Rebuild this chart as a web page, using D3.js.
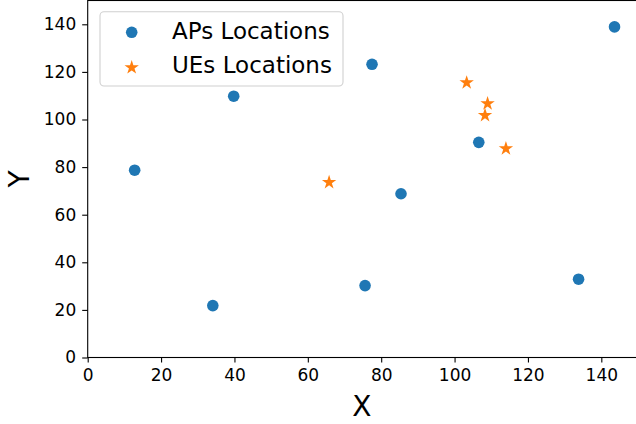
<!DOCTYPE html>
<html>
<head>
<meta charset="utf-8">
<script src="https://cdn.jsdelivr.net/npm/d3@7"></script>
<style>
  body { margin: 0; background: #fff; }
  text { font-family: "DejaVu Sans", sans-serif; fill: #000; }
</style>
</head>
<body>
<div id="chart"></div>
<script>
// AP and UE positions
var apX = [12.8, 39.8, 77.5, 34.1, 75.6, 85.4, 106.6, 143.6, 133.8];
var apY = [78.7, 109.8, 123.2, 21.8, 30.2, 68.8, 90.4, 138.9, 32.9];
var ueX = [65.8, 103.3, 109.0, 108.3, 114.0];
var ueY = [73.9, 115.8, 107.0, 102.1, 88.1];
var ticks = [0, 20, 40, 60, 80, 100, 120, 140];
var legendLabels = ["APs Locations", "UEs Locations"];

var W = 636, H = 424;
var margin = {top: 0.5, right: -2, bottom: 66.5, left: 87.7},
    width = W - margin.left - margin.right,
    height = H - margin.top - margin.bottom;

var x = d3.scaleLinear().domain([0, 150]).range([0, width]);
var y = d3.scaleLinear().domain([0, 150]).range([height, 0]);

var svg = d3.select("#chart").append("svg")
    .attr("width", W)
    .attr("height", H);

var g = svg.append("g")
    .attr("transform", "translate(" + margin.left + "," + margin.top + ")");

// frame
g.append("rect")
    .attr("width", width)
    .attr("height", height)
    .attr("fill", "none")
    .attr("stroke", "#000")
    .attr("stroke-width", 1.1);

// axes
var xAxis = g.append("g")
    .attr("transform", "translate(0," + height + ")")
    .call(d3.axisBottom(x).tickValues(ticks).tickSize(5).tickPadding(6));
var yAxis = g.append("g")
    .call(d3.axisLeft(y).tickValues(ticks).tickSize(5.5).tickPadding(6));

[xAxis, yAxis].forEach(function(a) {
  a.select(".domain").remove();
  a.selectAll("line").attr("stroke", "#000").attr("stroke-width", 1.1);
  a.selectAll("text")
      .style("font-family", "DejaVu Sans, sans-serif")
      .style("font-size", "17px")
      .attr("fill", "#000");
});

// axis labels
g.append("text")
    .attr("x", x(75) - 1)
    .attr("y", 415)
    .attr("text-anchor", "middle")
    .style("font-size", "28px")
    .text("X");

g.append("text")
    .attr("transform", "translate(" + (29 - margin.left) + "," + (height / 2) + ") rotate(-90)")
    .attr("text-anchor", "middle")
    .style("font-size", "28px")
    .text("Y");

// points
var plot = g.append("g");

plot.selectAll(".ap")
    .data(apX)
    .enter()
    .append("circle")
    .attr("class", "ap")
    .attr("cx", function(d) { return x(d); })
    .attr("cy", function(d, i) { return y(apY[i]); })
    .attr("r", 5.8)
    .attr("fill", "#1f77b4");

var star = d3.symbol().type(d3.symbolStar).size(64);

plot.selectAll(".ue")
    .data(ueX)
    .enter()
    .append("path")
    .attr("class", "ue")
    .attr("d", star)
    .attr("transform", function(d, i) {
      return "translate(" + x(d) + "," + (y(ueY[i]) + 0.8) + ")";
    })
    .attr("fill", "#ff7f0e");

// legend
var legend = svg.append("g");

legend.append("rect")
    .attr("x", 100)
    .attr("y", 11.7)
    .attr("width", 243)
    .attr("height", 74.3)
    .attr("rx", 4)
    .attr("fill", "#fff")
    .attr("fill-opacity", 0.8)
    .attr("stroke", "#d0d0d0")
    .attr("stroke-width", 1.1);

var rows = legend.selectAll(".row")
    .data(legendLabels)
    .enter()
    .append("g")
    .attr("transform", function(d, i) { return "translate(0," + (32.3 + i * 34.4) + ")"; });

rows.each(function(d, i) {
  var r = d3.select(this);
  if (i === 0) {
    r.append("circle").attr("cx", 131.7).attr("cy", 0).attr("r", 5.8).attr("fill", "#1f77b4");
  } else {
    r.append("path").attr("d", star).attr("transform", "translate(131.7,0.8)").attr("fill", "#ff7f0e");
  }
});

rows.append("text")
    .attr("x", 172)
    .attr("y", 0)
    .attr("dy", "0.29em")
    .style("font-size", "23px")
    .text(function(d) { return d; });
</script>
</body>
</html>
